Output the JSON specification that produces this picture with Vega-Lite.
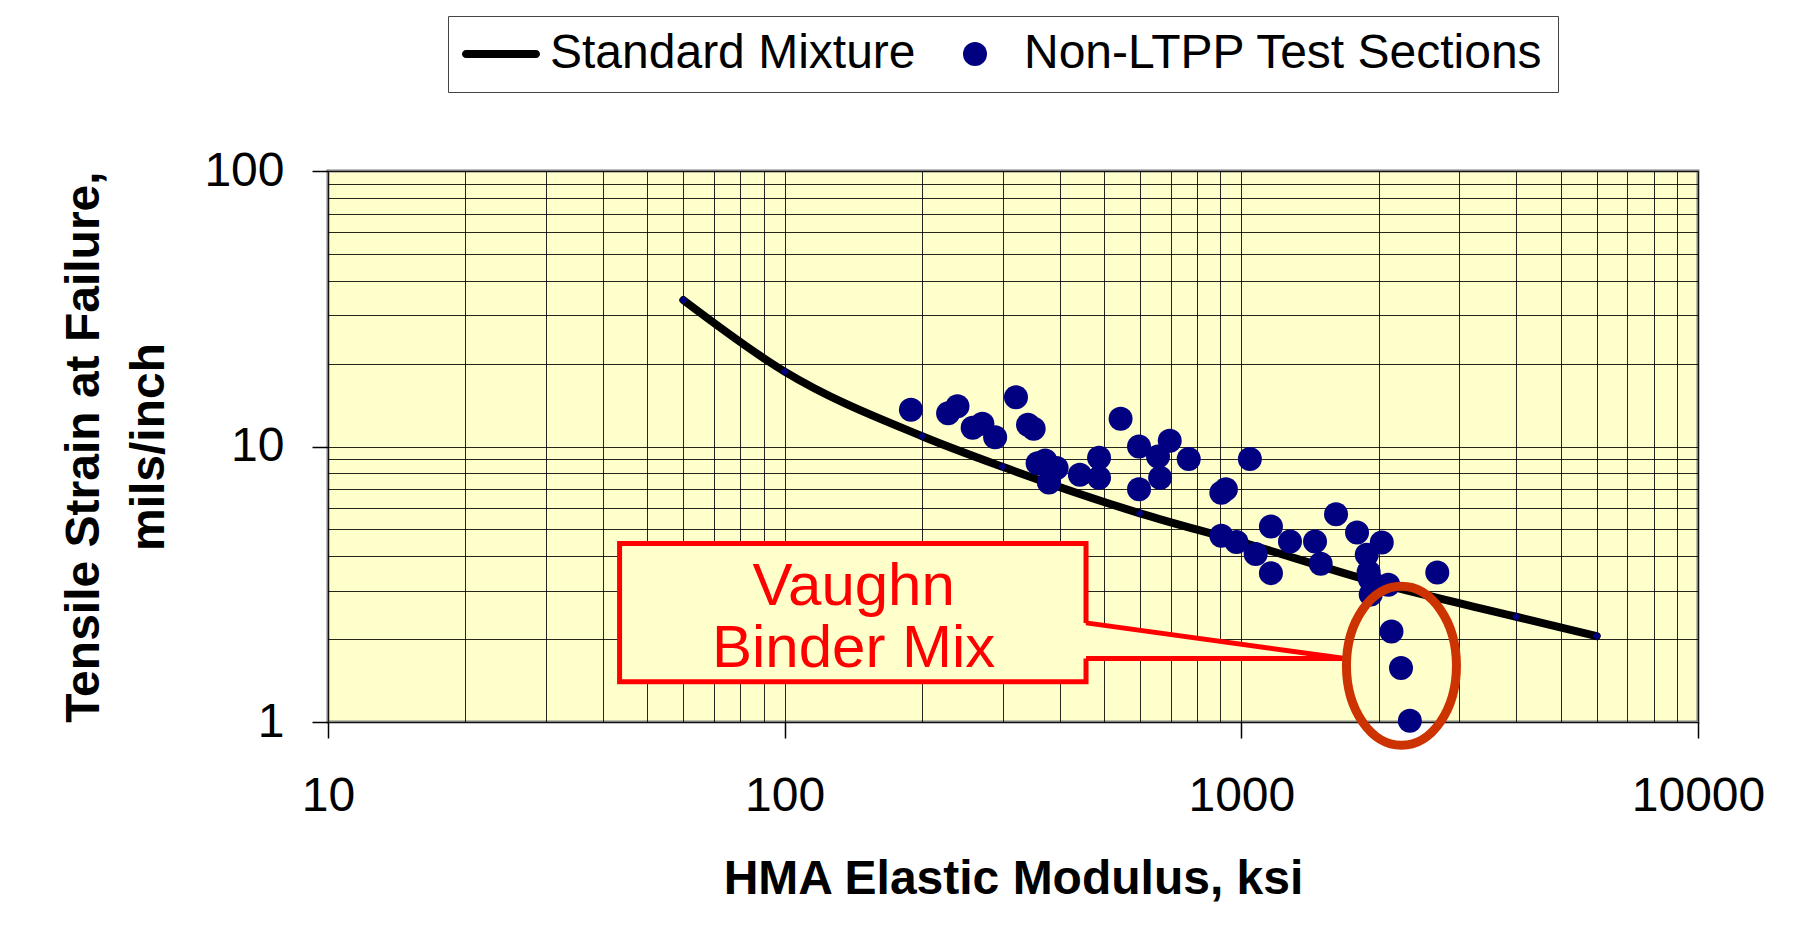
{
  "$schema": "https://vega.github.io/schema/vega-lite/v6.json",
  "width": 1370,
  "height": 551,
  "autosize": {"type": "none"},
  "padding": {"left": 328, "top": 171, "right": 103, "bottom": 230},
  "background": "white",
  "config": {
    "view": {"fill": "#FFFFCC", "stroke": "#808080", "strokeWidth": 3},
    "font": "Liberation Sans",
    "axis": {
      "domain": false,
      "gridColor": "#000000",
      "gridWidth": 1,
      "gridOpacity": 0.85,
      "tickColor": "#000000",
      "tickWidth": 1.5,
      "tickSize": 16,
      "labelFont": "Liberation Sans",
      "labelFontSize": 48,
      "labelColor": "#000000",
      "labelOverlap": false,
      "labelFlush": false,
      "titleFont": "Liberation Sans",
      "titleFontSize": 48,
      "titleFontWeight": "bold",
      "titleColor": "#000000"
    }
  },
  "datasets": {
    "std": [
      {"E": 60, "S": 34},
      {"E": 100, "S": 18.7},
      {"E": 200, "S": 10.9},
      {"E": 300, "S": 8.44},
      {"E": 600, "S": 5.72},
      {"E": 1000, "S": 4.5},
      {"E": 2000, "S": 3.19},
      {"E": 4000, "S": 2.41},
      {"E": 6000, "S": 2.05}
    ],
    "pts": [
      {"E": 189, "S": 13.6}, {"E": 228, "S": 13.2}, {"E": 239, "S": 14.0},
      {"E": 258, "S": 11.7}, {"E": 271, "S": 12.1}, {"E": 289, "S": 10.8},
      {"E": 321, "S": 15.1}, {"E": 341, "S": 12.0}, {"E": 351, "S": 11.6},
      {"E": 358, "S": 8.7}, {"E": 372, "S": 8.9}, {"E": 394, "S": 8.35},
      {"E": 379, "S": 7.4}, {"E": 443, "S": 7.9}, {"E": 488, "S": 9.1},
      {"E": 488, "S": 7.7}, {"E": 544, "S": 12.6}, {"E": 597, "S": 10.0},
      {"E": 657, "S": 9.2}, {"E": 697, "S": 10.5}, {"E": 664, "S": 7.7},
      {"E": 597, "S": 7.0}, {"E": 767, "S": 9.0}, {"E": 1044, "S": 9.0},
      {"E": 904, "S": 6.8}, {"E": 925, "S": 7.0}, {"E": 904, "S": 4.74},
      {"E": 976, "S": 4.5}, {"E": 1075, "S": 4.07}, {"E": 1161, "S": 3.47},
      {"E": 1161, "S": 5.12}, {"E": 1278, "S": 4.52}, {"E": 1450, "S": 4.52},
      {"E": 1492, "S": 3.75}, {"E": 1612, "S": 5.68}, {"E": 1792, "S": 4.87},
      {"E": 2030, "S": 4.48}, {"E": 1882, "S": 4.05}, {"E": 1900, "S": 3.5},
      {"E": 1913, "S": 3.3}, {"E": 1920, "S": 2.9}, {"E": 2098, "S": 3.15},
      {"E": 2686, "S": 3.49}, {"E": 2132, "S": 2.13}, {"E": 2237, "S": 1.57},
      {"E": 2339, "S": 1.01}
    ],
    "box": [{"E": 43.5, "E2": 457, "S": 4.45, "S2": 1.4}],
    "tail": [
      {"E": 448, "S": 2.29, "S2": 1.7},
      {"E": 1686, "S": 1.7, "S2": 1.7}
    ],
    "edges": [
      {"E": 457, "S": 2.29, "E2": 1686, "S2": 1.7},
      {"E": 457, "S": 1.7, "E2": 1686, "S2": 1.7}
    ],
    "texts": [
      {"E": 141.6, "S": 2.665, "label": "Vaughn"},
      {"E": 141.6, "S": 1.59, "label": "Binder Mix"}
    ],
    "ellipse": [{"E": 2242, "S": 1.6}]
  },
  "layer": [
    {
      "data": {"name": "std"},
      "mark": {"type": "line", "color": "#000000", "strokeWidth": 8, "strokeCap": "round", "strokeJoin": "round", "interpolate": "monotone"},
      "encoding": {
        "x": {
          "field": "E", "type": "quantitative",
          "scale": {"type": "log", "domain": [10, 10000], "nice": false},
          "axis": {
            "title": "HMA Elastic Modulus, ksi",
            "values": [10,20,30,40,50,60,70,80,90,100,200,300,400,500,600,700,800,900,1000,2000,3000,4000,5000,6000,7000,8000,9000,10000],
            "labelExpr": "indexof([10,100,1000,10000], datum.value) >= 0 ? format(datum.value, 'd') : ''",
            "tickOpacity": {"condition": {"test": "indexof([10,100,1000,10000], datum.value) >= 0", "value": 1}, "value": 0},
            "labelPadding": 34,
            "titlePadding": 35
          }
        },
        "y": {
          "field": "S", "type": "quantitative",
          "scale": {"type": "log", "domain": [1, 100], "nice": false},
          "axis": {
            "title": ["Tensile Strain at Failure,", "mils/inch"],
            "titleLineHeight": 65,
            "values": [1,2,3,4,5,6,7,8,9,10,20,30,40,50,60,70,80,90,100],
            "labelExpr": "indexof([1,10,100], datum.value) >= 0 ? format(datum.value, 'd') : ''",
            "tickOpacity": {"condition": {"test": "indexof([1,10,100], datum.value) >= 0", "value": 1}, "value": 0},
            "labelPadding": 28,
            "titlePadding": 30
          }
        }
      }
    },
    {
      "data": {"name": "std"},
      "mark": {"type": "point", "shape": "diamond", "filled": true, "color": "#000080", "size": 70, "opacity": 1},
      "encoding": {
        "x": {"field": "E", "type": "quantitative"},
        "y": {"field": "S", "type": "quantitative"}
      }
    },
    {
      "data": {"name": "pts"},
      "mark": {"type": "point", "filled": true, "size": 576, "opacity": 1},
      "encoding": {
        "x": {"field": "E", "type": "quantitative"},
        "y": {"field": "S", "type": "quantitative"},
        "color": {
          "datum": "Non-LTPP Test Sections",
          "scale": {"domain": ["Standard Mixture", "Non-LTPP Test Sections"], "range": ["#000000", "#000080"]},
          "legend": {
            "title": null,
            "orient": "none",
            "legendX": 120,
            "legendY": -155,
            "direction": "horizontal",
            "padding": 14,
            "strokeColor": "#444444",
            "fillColor": "#FFFFFF",
            "labelFont": "Liberation Sans",
            "labelFontSize": 48,
            "labelColor": "#000000",
            "labelLimit": 2000,
            "labelOffset": 25,
            "symbolOffset": 15,
            "columnPadding": 20,
            "symbolSize": 576,
            "symbolOpacity": 1
          }
        },
        "shape": {
          "datum": "Non-LTPP Test Sections",
          "scale": {
            "domain": ["Standard Mixture", "Non-LTPP Test Sections"],
            "range": ["M-2.917,-0.333 L2.917,-0.333 A0.333,0.333 0 0,1 2.917,0.333 L-2.917,0.333 A0.333,0.333 0 0,1 -2.917,-0.333 Z", "circle"]
          },
          "legend": {
            "title": null,
            "orient": "none",
            "legendX": 120,
            "legendY": -155,
            "direction": "horizontal",
            "padding": 14,
            "strokeColor": "#444444",
            "fillColor": "#FFFFFF",
            "labelFont": "Liberation Sans",
            "labelFontSize": 48,
            "labelColor": "#000000",
            "labelLimit": 2000,
            "labelOffset": 25,
            "symbolOffset": 15,
            "columnPadding": 20,
            "symbolSize": 576,
            "symbolOpacity": 1
          }
        }
      }
    },
    {
      "data": {"name": "box"},
      "mark": {"type": "rect", "fill": "#FFFFCC", "stroke": "#FF0000", "strokeWidth": 5},
      "encoding": {
        "x": {"field": "E", "type": "quantitative"},
        "x2": {"field": "E2"},
        "y": {"field": "S", "type": "quantitative"},
        "y2": {"field": "S2"}
      }
    },
    {
      "data": {"name": "tail"},
      "mark": {"type": "area", "fill": "#FFFFCC", "opacity": 1},
      "encoding": {
        "x": {"field": "E", "type": "quantitative"},
        "y": {"field": "S", "type": "quantitative"},
        "y2": {"field": "S2"}
      }
    },
    {
      "data": {"name": "edges"},
      "mark": {"type": "rule", "color": "#FF0000", "strokeWidth": 5},
      "encoding": {
        "x": {"field": "E", "type": "quantitative"},
        "x2": {"field": "E2"},
        "y": {"field": "S", "type": "quantitative"},
        "y2": {"field": "S2"}
      }
    },
    {
      "data": {"name": "texts"},
      "mark": {"type": "text", "color": "#FF0000", "font": "Liberation Sans", "fontSize": 60, "align": "center", "baseline": "alphabetic"},
      "encoding": {
        "x": {"field": "E", "type": "quantitative"},
        "y": {"field": "S", "type": "quantitative"},
        "text": {"field": "label"}
      }
    },
    {
      "data": {"name": "ellipse"},
      "mark": {
        "type": "point",
        "shape": "M0,-1.445 A1,1.445 0 1,1 0,1.445 A1,1.445 0 1,1 0,-1.445 Z",
        "filled": false,
        "stroke": "#CC3300",
        "strokeWidth": 9,
        "size": 12100,
        "opacity": 1
      },
      "encoding": {
        "x": {"field": "E", "type": "quantitative"},
        "y": {"field": "S", "type": "quantitative"}
      }
    }
  ]
}
